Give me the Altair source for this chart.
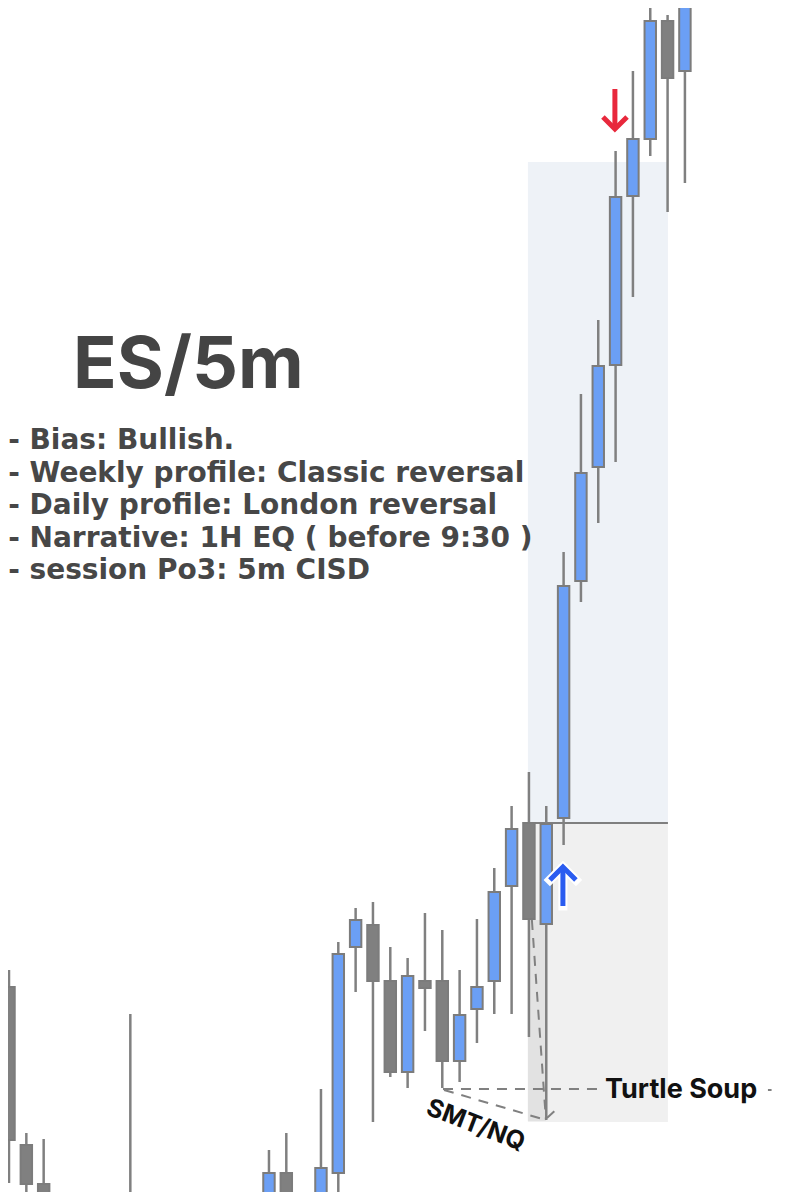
import altair as alt
import pandas as pd

# ---- candle data (bar index, price units) ----
idx    = [0, 1, 2, 7, 15, 16, 18, 19, 20, 21, 22, 23, 24, 25, 26, 27, 28, 29, 30, 31, 32, 33, 34, 35, 36, 37, 38, 39]
opens  = [213, 55, 16, -15, -15, 27, -15, 27, 253, 275, 219, 128, 219, 219, 139, 191, 219, 314, 377, 276, 382, 619, 733, 835, 1004, 1061, 1179, 1129]
highs  = [230, 67, 61, 186, 50, 67, 111, 258, 292, 298, 253, 242, 287, 270, 230, 281, 332, 394, 428, 394, 648, 806, 880, 1049, 1129, 1220, 1185, 1240]
lows   = [17, -10, -50, -60, -30, -35, -30, 5, 208, 78, 123, 112, 169, 112, 118, 157, 186, 186, 163, 80, 355, 598, 677, 738, 903, 1044, 988, 1017]
closes = [60, 16, -30, -40, 27, -20, 32, 246, 280, 219, 128, 224, 212, 139, 185, 213, 308, 371, 281, 376, 614, 727, 834, 1003, 1061, 1179, 1122, 1220]

# ---- zones ----
zone_names = ["premium", "discount", "sweep"]
zone_x1 = [29.94, 29.94, 29.94]
zone_x2 = [38.02, 38.02, 30.98]
zone_y1 = [377, 78, 79]
zone_y2 = [1038, 377, 280]
zone_colors = ["#eef2f7", "#f0f0f0", "#e2e2e2"]

# ---- level / dashed annotations ----
level_x1, level_x2, level_y = [29.65], [38.02], [377]
dash_x1 = [25.04, 25.1, 30.17, 31.04, 43.79]
dash_x2 = [34.1, 30.98, 30.98, 31.79, 44.0]
dash_y1 = [111, 110, 280, 82, 110]
dash_y2 = [111, 80, 80, 94, 110]

# ---- arrows (polyline points) ----
red_seg = ["shaft", "shaft", "head", "head", "head"]
red_ord = [0, 1, 0, 1, 2]
red_x = [34.96, 34.96, 34.27, 34.96, 35.66]
red_y = [1111, 1073, 1083, 1071, 1083]
blue_seg = ["shaft", "shaft", "head", "head", "head"]
blue_ord = [0, 1, 0, 1, 2]
blue_x = [31.96, 31.96, 31.21, 31.96, 32.71]
blue_y = [331, 294, 320, 333, 320]

# ---- texts ----
title_text = ["ES/5m"]
title_x, title_y = [10.35], [812]
bullet_lines = ["- Bias: Bullish.",
                "- Weekly profile: Classic reversal",
                "- Daily profile: London reversal",
                "- Narrative: 1H EQ ( before 9:30 )",
                "- session Po3: 5m CISD"]
bullet_x = [-0.05] * 5
bullet_y = [751, 718.5, 686, 653.5, 621.5]
ts_text, ts_x, ts_y = ["Turtle Soup"], [34.39], [102]
smt_text, smt_x, smt_y = ["SMT/NQ"], [26.94], [75]

XS = alt.Scale(domain=[-0.058, 44.89], nice=False, zero=False)
YS = alt.Scale(domain=[8, 1192], nice=False, zero=False)


def X(f, **k):
    return alt.X(f, type="quantitative", scale=XS, axis=None, **k)


def Y(f, **k):
    return alt.Y(f, type="quantitative", scale=YS, axis=None, **k)


candles = pd.DataFrame({"i": idx, "open": opens, "high": highs, "low": lows, "close": closes})
candles["dir"] = ["up" if c >= o else "down" for o, c in zip(opens, closes)]

zones = pd.DataFrame({"name": zone_names, "x1": zone_x1, "x2": zone_x2, "y1": zone_y1, "y2": zone_y2, "c": zone_colors})
zone_layer = alt.Chart(zones).mark_rect(clip=True).encode(
    x=X("x1"), x2="x2", y=Y("y1"), y2="y2",
    color=alt.Color("c:N", scale=None, legend=None))

level = pd.DataFrame({"x1": level_x1, "x2": level_x2, "y": level_y})
level_layer = alt.Chart(level).mark_rule(color="#7f7f7f", strokeWidth=2.2).encode(
    x=X("x1"), x2="x2", y=Y("y"))

dashes = pd.DataFrame({"x1": dash_x1, "x2": dash_x2, "y1": dash_y1, "y2": dash_y2})
dash_layer = alt.Chart(dashes).mark_rule(color="#808080", strokeWidth=2, strokeDash=[10, 8]).encode(
    x=X("x1"), x2="x2", y=Y("y1"), y2="y2")

wicks = alt.Chart(candles).mark_rule(color="#808080", strokeWidth=2.5, clip=True).encode(
    x=X("i"), y=Y("low"), y2="high")

bodies = alt.Chart(candles).transform_calculate(
    xl="datum.i - 0.33", xr="datum.i + 0.33"
).mark_rect(stroke="#7c7c7c", strokeWidth=2, clip=True).encode(
    x=X("xl:Q"), x2="xr:Q", y=Y("open"), y2="close",
    fill=alt.Fill("dir:N", scale=alt.Scale(domain=["up", "down"], range=["#6b9ff5", "#808080"]), legend=None))

red = pd.DataFrame({"seg": red_seg, "o": red_ord, "x": red_x, "y": red_y})
red_layer = alt.Chart(red).mark_line(color="#e8283c", strokeWidth=5, strokeCap="butt", strokeJoin="miter").encode(
    x=X("x"), y=Y("y"), detail="seg:N", order="o:Q")

blue = pd.DataFrame({"seg": blue_seg, "o": blue_ord, "x": blue_x, "y": blue_y})
blue_bg = alt.Chart(blue).mark_line(color="white", strokeWidth=9, strokeCap="square").encode(
    x=X("x"), y=Y("y"), detail="seg:N", order="o:Q")
blue_layer = alt.Chart(blue).mark_line(color="#2a5cf0", strokeWidth=5, strokeCap="butt", strokeJoin="miter").encode(
    x=X("x"), y=Y("y"), detail="seg:N", order="o:Q")

title_layer = alt.Chart(pd.DataFrame({"t": title_text, "x": title_x, "y": title_y})).mark_text(
    font="Inter", fontWeight="bold", fontSize=72, color="#444444", align="center", baseline="alphabetic").encode(
    x=X("x"), y=Y("y"), text="t:N")

bullet_layer = alt.Chart(pd.DataFrame({"t": bullet_lines, "x": bullet_x, "y": bullet_y})).mark_text(
    font="DejaVu Sans", fontWeight="bold", fontSize=28, color="#474747", align="left", baseline="alphabetic").encode(
    x=X("x"), y=Y("y"), text="t:N")

ts_layer = alt.Chart(pd.DataFrame({"t": ts_text, "x": ts_x, "y": ts_y})).mark_text(
    font="Inter", fontWeight="bold", fontSize=27, color="#111111", align="left", baseline="alphabetic").encode(
    x=X("x"), y=Y("y"), text="t:N")

smt_layer = alt.Chart(pd.DataFrame({"t": smt_text, "x": smt_x, "y": smt_y})).mark_text(
    font="Inter", fontWeight="bold", fontSize=25, color="#111111", align="center", baseline="middle", angle=21).encode(
    x=X("x"), y=Y("y"), text="t:N")

chart = alt.layer(
    zone_layer, level_layer, dash_layer, wicks, bodies,
    red_layer, blue_bg, blue_layer,
    title_layer, bullet_layer, ts_layer, smt_layer
).properties(
    width=779, height=1184, padding=0, autosize="none", background="white"
).configure_view(stroke=None)

chart.save("out.html", embed_options={"renderer": "svg", "actions": False})
